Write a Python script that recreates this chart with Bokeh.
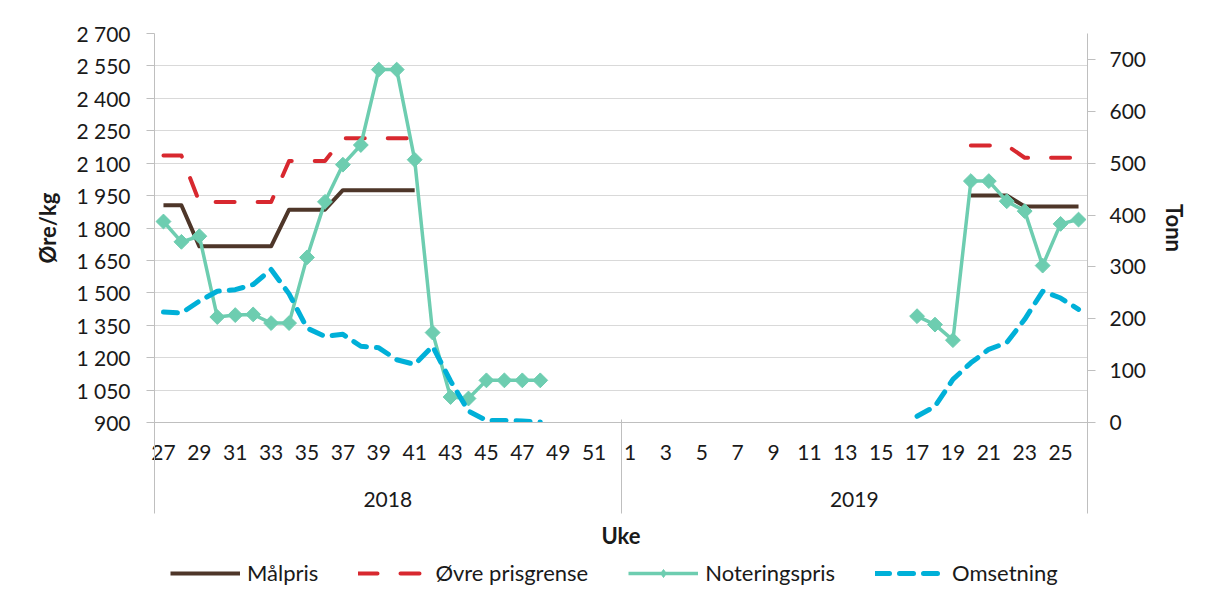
import numpy as np
from bokeh.plotting import figure
from bokeh.layouts import column
from bokeh.models import Range1d, LinearAxis, FixedTicker, Legend, LegendItem
from bokeh.embed import file_html
from bokeh.resources import INLINE

nan = float("nan")

# ---- data ----
years = ["2018"] * 26 + ["2019"] * 26
weeks = list(range(27, 53)) + list(range(1, 27))

malpris = [1905, 1905, 1715, 1715, 1715, 1715, 1715, 1885, 1885, 1885,
           1975, 1975, 1975, 1975, 1975, nan, nan, nan, nan, nan, nan, nan,
           nan, nan, nan, nan,
           nan, nan, nan, nan, nan, nan, nan, nan, nan, nan, nan, nan, nan,
           nan, nan, nan, nan, nan, nan, 1950, 1950, 1950, 1900, 1900, 1900, 1900]

ovre = [2135, 2135, 1920, 1920, 1920, 1920, 1920, 2110, 2110, 2110,
        2215, 2215, 2215, 2215, 2215, nan, nan, nan, nan, nan, nan, nan,
        nan, nan, nan, nan,
        nan, nan, nan, nan, nan, nan, nan, nan, nan, nan, nan, nan, nan,
        nan, nan, nan, nan, nan, nan, 2182, 2182, 2182, 2125, 2125, 2125, 2125]

notering = [1830, 1736, 1762, 1388, 1397, 1400, 1360, 1360, 1664, 1921,
            2093, 2184, 2533, 2533, 2116, 1316, 1018, 1011, 1095, 1095, 1095, 1095,
            nan, nan, nan, nan,
            nan, nan, nan, nan, nan, nan, nan, nan, nan, nan, nan, nan, nan,
            nan, nan, nan, 1392, 1353, 1281, 2017, 2017, 1924, 1878, 1626, 1819, 1839]

omsetning = [213, 211, 234, 253, 256, 266, 295, 248, 182, 166,
             170, 147, 144, 121, 112, 147, 80, 22, 4, 4, 3, 1,
             nan, nan, nan, nan,
             nan, nan, nan, nan, nan, nan, nan, nan, nan, nan, nan, nan, nan,
             nan, nan, nan, 12, 31, 83, 115, 141, 154, 199, 253, 240, 218]

left_ticks = [900, 1050, 1200, 1350, 1500, 1650, 1800, 1950, 2100, 2250, 2400, 2550, 2700]
right_ticks = [0, 100, 200, 300, 400, 500, 600, 700]

series_names = ["Målpris", "Øvre prisgrense", "Noteringspris", "Omsetning"]

FONT = "Lato"
FS = "21px"
FS_T = "22px"
TXT = "#1a1a1a"
AXC = "#bfbfbf"
C_MAL, C_OVRE, C_NOT, C_OMS = "#4e3629", "#d8282f", "#6dcdb0", "#00b0d8"

n = len(weeks)
x = [i + 0.5 for i in range(n)]

p = figure(width=1204, height=558, output_backend="svg", toolbar_location=None,
           x_range=Range1d(0, n), y_range=Range1d(left_ticks[0], left_ticks[-1]),
           x_axis_location=None, y_axis_location=None,
           min_border_left=154, min_border_right=117, min_border_top=33,
           min_border_bottom=136)
p.outline_line_color = None
p.background_fill_color = "white"
p.border_fill_color = "white"
p.extra_y_ranges = {"tonn": Range1d(0, 750)}

p.xgrid.visible = False
p.ygrid.ticker = FixedTicker(ticks=left_ticks)
p.ygrid.grid_line_color = "#d9d9d9"
p.ygrid.grid_line_width = 1

# left axis
la = LinearAxis(ticker=FixedTicker(ticks=left_ticks))
la.major_label_overrides = {t: f"{t:,}".replace(",", " ") for t in left_ticks}
la.axis_label = "Øre/kg"
p.add_layout(la, "left")

ra = LinearAxis(y_range_name="tonn", ticker=FixedTicker(ticks=right_ticks))
ra.axis_label = "Tonn"
p.add_layout(ra, "right")

for ax in (la, ra):
    ax.axis_line_color = AXC
    ax.major_tick_line_color = AXC
    ax.major_tick_out = 8
    ax.major_tick_in = 0
    ax.minor_tick_line_color = None
    ax.major_label_text_font = FONT
    ax.major_label_text_font_size = FS
    ax.major_label_text_color = TXT
    ax.axis_label_text_font = FONT
    ax.axis_label_text_font_size = FS_T
    ax.axis_label_text_font_style = "bold"
    ax.axis_label_text_color = TXT
la.major_label_standoff = 16
la.axis_label_standoff = 12
ra.major_label_standoff = 14
ra.axis_label_standoff = 12

# week axis (labels every other week)
week_ticks = [i + 0.5 for i in range(0, n, 2)]
wa = LinearAxis(ticker=FixedTicker(ticks=week_ticks, minor_ticks=[]))
wa.major_label_overrides = {i + 0.5: str(weeks[i]) for i in range(0, n, 2)}
wa.axis_line_color = AXC
wa.major_tick_line_color = None
wa.minor_tick_line_color = None
wa.major_tick_out = 0
wa.major_tick_in = 0
wa.minor_tick_out = 0
wa.minor_tick_in = 0
wa.major_label_standoff = 22
wa.major_label_text_font = FONT
wa.major_label_text_font_size = FS
wa.major_label_text_color = TXT
p.add_layout(wa, "below")

# year axis
group_edges = [0]
for i in range(1, n):
    if years[i] != years[i - 1]:
        group_edges.append(i)
group_edges.append(n)
year_names = []
year_centers = []
for a, b in zip(group_edges[:-1], group_edges[1:]):
    year_names.append(years[a])
    year_centers.append((a + b) / 2)
ya = LinearAxis(ticker=FixedTicker(ticks=year_centers, minor_ticks=[]))
ya.major_label_overrides = {c: nm for c, nm in zip(year_centers, year_names)}
ya.axis_line_color = None
ya.major_tick_line_color = None
ya.minor_tick_line_color = None
ya.major_tick_out = 0
ya.major_tick_in = 0
ya.minor_tick_out = 0
ya.minor_tick_in = 0
ya.major_label_standoff = 29
ya.major_label_text_font = FONT
ya.major_label_text_font_size = FS
ya.major_label_text_color = TXT
p.add_layout(ya, "below")

# separator axis: group boundary lines reaching up to the plot area, carries "Uke"
sa = LinearAxis(ticker=FixedTicker(ticks=[], minor_ticks=group_edges))
sa.axis_line_color = None
sa.major_tick_line_color = None
sa.major_tick_out = 0
sa.major_tick_in = 0
sa.minor_tick_line_color = AXC
sa.minor_tick_out = 4
sa.minor_tick_in = 90
sa.major_label_standoff = 0
sa.axis_label = "Uke"
sa.axis_label_text_font = FONT
sa.axis_label_text_font_size = FS_T
sa.axis_label_text_font_style = "bold"
sa.axis_label_text_color = TXT
sa.axis_label_standoff = 8
p.add_layout(sa, "below")

# series
r_mal = p.line(x, malpris, line_color=C_MAL, line_width=4, line_join="round")
r_ovre = p.line(x, ovre, line_color=C_OVRE, line_width=4, line_dash="19 23",
                line_cap="round", line_join="round")
r_not = p.line(x, notering, line_color=C_NOT, line_width=3.5, line_join="round")
r_notm = p.scatter(x, notering, marker="square", angle=np.pi / 4, size=10.5,
                   fill_color=C_NOT, line_color=C_NOT)
r_oms = p.line(x, omsetning, y_range_name="tonn", line_color=C_OMS, line_width=5,
               line_dash="14 10", line_cap="round", line_join="round")

# legend strip (separate figure below the chart, legend samples only)
lg = figure(width=1204, height=40, output_backend="svg", toolbar_location=None,
            x_range=Range1d(0, 1), y_range=Range1d(0, 1),
            x_axis_location=None, y_axis_location=None,
            min_border_left=0, min_border_right=0, min_border_top=0, min_border_bottom=0)
lg.outline_line_color = None
lg.grid.visible = False
lg.background_fill_color = "white"
lg.border_fill_color = "white"
s_mal = lg.line([nan], [nan], line_color=C_MAL, line_width=4)
s_ovre = lg.line([nan], [nan], line_color=C_OVRE, line_width=4, line_dash="19 23",
                 line_cap="round")
s_not = lg.line([nan], [nan], line_color=C_NOT, line_width=3.5)
s_notm = lg.scatter([nan], [nan], marker="diamond", size=18,
                    fill_color=C_NOT, line_color=C_NOT)
s_oms = lg.line([nan], [nan], line_color=C_OMS, line_width=5, line_dash="14 10",
                line_cap="round")

legend = Legend(items=[
    LegendItem(label=series_names[0], renderers=[s_mal]),
    LegendItem(label=series_names[1], renderers=[s_ovre]),
    LegendItem(label=series_names[2], renderers=[s_not, s_notm]),
    LegendItem(label=series_names[3], renderers=[s_oms]),
], orientation="horizontal", location=(16, 12))
legend.border_line_color = None
legend.background_fill_alpha = 0
legend.glyph_width = 70
legend.glyph_height = 20
legend.label_standoff = 7
legend.spacing = 40
legend.padding = 0
legend.margin = 0
legend.label_text_font = FONT
legend.label_text_font_size = FS_T
legend.label_text_color = TXT
lg.add_layout(legend, "center")

layout = column(p, lg, spacing=0)
open("out.html", "w").write(file_html(layout, INLINE))
